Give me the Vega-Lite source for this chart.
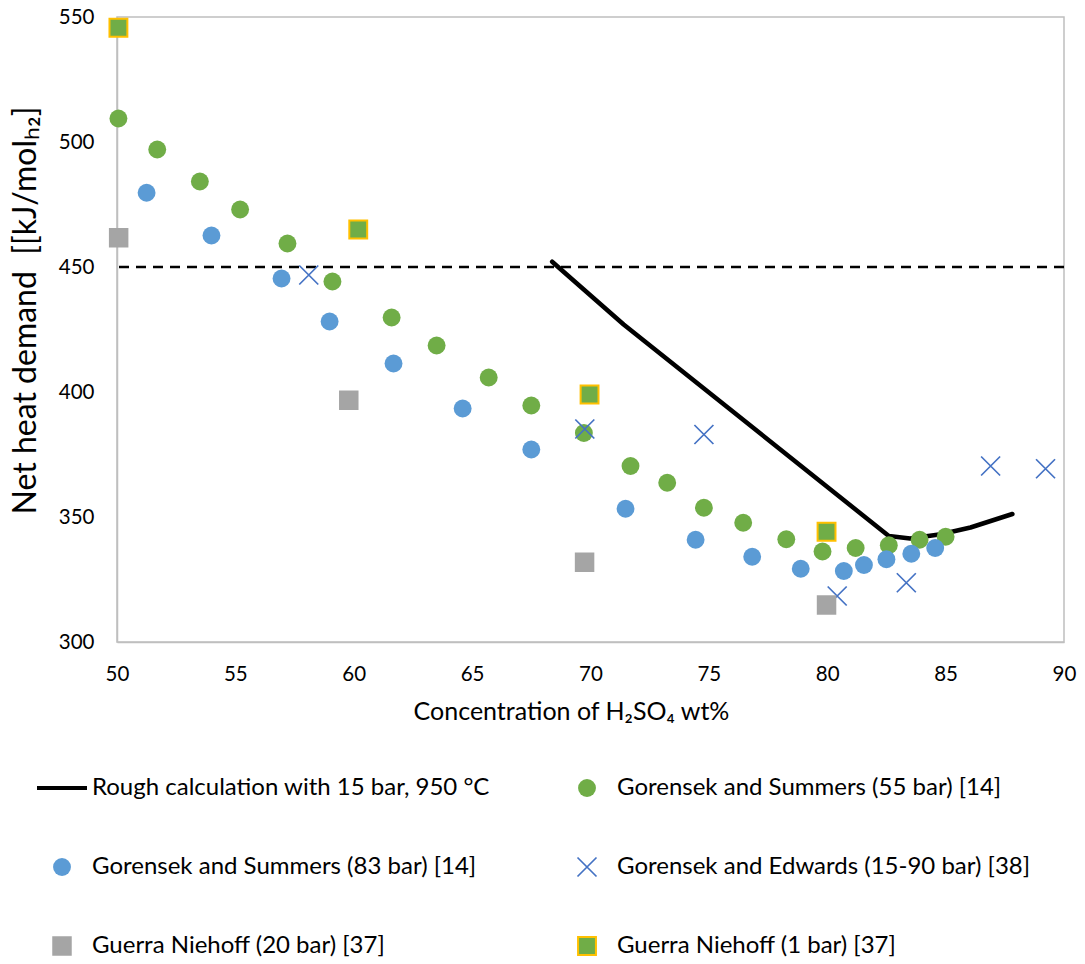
{
  "$schema": "https://vega.github.io/schema/vega-lite/v6.json",
  "width": 947,
  "height": 625,
  "autosize": {"type": "none"},
  "padding": {"left": 117, "top": 17, "right": 21, "bottom": 322},
  "background": "white",
  "config": {
    "font": "Lato",
    "view": {"stroke": "#BFBFBF", "strokeWidth": 1.5},
    "axis": {
      "grid": false,
      "ticks": false,
      "domainColor": "#BFBFBF",
      "domainWidth": 1.5,
      "labelFont": "Lato",
      "labelFontSize": 20.5,
      "labelColor": "#000000",
      "labelFlush": false,
      "labelOverlap": false,
      "titleFont": "Lato",
      "titleColor": "#000000",
      "titleFontWeight": "normal"
    },
    "legend": {
      "labelFont": "Lato",
      "labelFontSize": 24,
      "labelColor": "#000000",
      "labelLimit": 800,
      "labelOffset": 3,
      "padding": 0
    }
  },
  "datasets": {
    "calc": [
      {"conc": 68.38, "demand": 452.1},
      {"conc": 71.4, "demand": 427.0},
      {"conc": 82.6, "demand": 342.4},
      {"conc": 83.5, "demand": 341.4},
      {"conc": 84.8, "demand": 343.1},
      {"conc": 86.05, "demand": 345.8},
      {"conc": 87.82, "demand": 351.2}
    ],
    "threshold": [{"demand": 450}],
    "obs": [
      {"series": "Gorensek and Summers (55 bar) [14]", "conc": 50.06, "demand": 509.4},
      {"series": "Gorensek and Summers (55 bar) [14]", "conc": 51.7, "demand": 497.0},
      {"series": "Gorensek and Summers (55 bar) [14]", "conc": 53.5, "demand": 484.2},
      {"series": "Gorensek and Summers (55 bar) [14]", "conc": 55.2, "demand": 473.0},
      {"series": "Gorensek and Summers (55 bar) [14]", "conc": 57.2, "demand": 459.4},
      {"series": "Gorensek and Summers (55 bar) [14]", "conc": 59.1, "demand": 444.2},
      {"series": "Gorensek and Summers (55 bar) [14]", "conc": 61.6, "demand": 429.8},
      {"series": "Gorensek and Summers (55 bar) [14]", "conc": 63.5, "demand": 418.6},
      {"series": "Gorensek and Summers (55 bar) [14]", "conc": 65.7, "demand": 405.8},
      {"series": "Gorensek and Summers (55 bar) [14]", "conc": 67.5, "demand": 394.6},
      {"series": "Gorensek and Summers (55 bar) [14]", "conc": 69.72, "demand": 383.6},
      {"series": "Gorensek and Summers (55 bar) [14]", "conc": 71.69, "demand": 370.4},
      {"series": "Gorensek and Summers (55 bar) [14]", "conc": 73.24, "demand": 363.7},
      {"series": "Gorensek and Summers (55 bar) [14]", "conc": 74.79, "demand": 353.7},
      {"series": "Gorensek and Summers (55 bar) [14]", "conc": 76.45, "demand": 347.7},
      {"series": "Gorensek and Summers (55 bar) [14]", "conc": 78.27, "demand": 341.1},
      {"series": "Gorensek and Summers (55 bar) [14]", "conc": 79.8, "demand": 336.2},
      {"series": "Gorensek and Summers (55 bar) [14]", "conc": 81.2, "demand": 337.6},
      {"series": "Gorensek and Summers (55 bar) [14]", "conc": 82.6, "demand": 338.7},
      {"series": "Gorensek and Summers (55 bar) [14]", "conc": 83.9, "demand": 340.9},
      {"series": "Gorensek and Summers (55 bar) [14]", "conc": 85.0, "demand": 342.1},
      {"series": "Gorensek and Summers (83 bar) [14]", "conc": 51.25, "demand": 479.7},
      {"series": "Gorensek and Summers (83 bar) [14]", "conc": 53.99, "demand": 462.6},
      {"series": "Gorensek and Summers (83 bar) [14]", "conc": 56.95, "demand": 445.4},
      {"series": "Gorensek and Summers (83 bar) [14]", "conc": 58.98, "demand": 428.2},
      {"series": "Gorensek and Summers (83 bar) [14]", "conc": 61.68, "demand": 411.4},
      {"series": "Gorensek and Summers (83 bar) [14]", "conc": 64.6, "demand": 393.4},
      {"series": "Gorensek and Summers (83 bar) [14]", "conc": 67.5, "demand": 377.0},
      {"series": "Gorensek and Summers (83 bar) [14]", "conc": 71.48, "demand": 353.3},
      {"series": "Gorensek and Summers (83 bar) [14]", "conc": 74.44, "demand": 340.9},
      {"series": "Gorensek and Summers (83 bar) [14]", "conc": 76.83, "demand": 334.1},
      {"series": "Gorensek and Summers (83 bar) [14]", "conc": 78.88, "demand": 329.3},
      {"series": "Gorensek and Summers (83 bar) [14]", "conc": 80.7, "demand": 328.4},
      {"series": "Gorensek and Summers (83 bar) [14]", "conc": 81.55, "demand": 330.8},
      {"series": "Gorensek and Summers (83 bar) [14]", "conc": 82.5, "demand": 333.1},
      {"series": "Gorensek and Summers (83 bar) [14]", "conc": 83.55, "demand": 335.3},
      {"series": "Gorensek and Summers (83 bar) [14]", "conc": 84.56, "demand": 337.6},
      {"series": "Gorensek and Edwards (15-90 bar) [38]", "conc": 58.1, "demand": 446.8},
      {"series": "Gorensek and Edwards (15-90 bar) [38]", "conc": 69.76, "demand": 385.2},
      {"series": "Gorensek and Edwards (15-90 bar) [38]", "conc": 74.79, "demand": 383.0},
      {"series": "Gorensek and Edwards (15-90 bar) [38]", "conc": 80.42, "demand": 318.4},
      {"series": "Gorensek and Edwards (15-90 bar) [38]", "conc": 83.34, "demand": 323.7},
      {"series": "Gorensek and Edwards (15-90 bar) [38]", "conc": 86.9, "demand": 370.4},
      {"series": "Gorensek and Edwards (15-90 bar) [38]", "conc": 89.22, "demand": 369.3},
      {"series": "Guerra Niehoff (20 bar) [37]", "conc": 50.07, "demand": 461.7},
      {"series": "Guerra Niehoff (20 bar) [37]", "conc": 59.79, "demand": 396.7},
      {"series": "Guerra Niehoff (20 bar) [37]", "conc": 69.75, "demand": 331.9},
      {"series": "Guerra Niehoff (20 bar) [37]", "conc": 79.97, "demand": 314.8},
      {"series": "Guerra Niehoff (1 bar) [37]", "conc": 50.06, "demand": 545.7},
      {"series": "Guerra Niehoff (1 bar) [37]", "conc": 60.19, "demand": 465.0},
      {"series": "Guerra Niehoff (1 bar) [37]", "conc": 69.96, "demand": 399.0},
      {"series": "Guerra Niehoff (1 bar) [37]", "conc": 79.97, "demand": 344.1}
    ]
  },
  "encoding": {
    "x": {
      "field": "conc",
      "type": "quantitative",
      "scale": {"domain": [50, 90], "nice": false, "zero": false},
      "axis": {
        "values": [50, 55, 60, 65, 70, 75, 80, 85, 90],
        "labelPadding": 22,
        "title": "Concentration of H₂SO₄ wt%",
        "titleFontSize": 25,
        "titleX": 454,
        "titleY": 77,
        "titleAnchor": null,
        "titleAlign": "center",
        "titleBaseline": "alphabetic"
      }
    },
    "y": {
      "field": "demand",
      "type": "quantitative",
      "scale": {"domain": [300, 550], "nice": false, "zero": false},
      "axis": {
        "values": [300, 350, 400, 450, 500, 550],
        "labelPadding": 23,
        "title": "Net heat demand\u00a0 [[kJ/molₕ₂]",
        "titleFontSize": 32,
        "titleAngle": -90,
        "titleX": -82,
        "titleY": 293,
        "titleAlign": "center",
        "titleBaseline": "alphabetic"
      }
    }
  },
  "layer": [
    {
      "data": {"name": "threshold"},
      "mark": {"type": "rule", "color": "#000000", "strokeWidth": 2.5, "strokeDash": [10, 7]},
      "encoding": {"x": null}
    },
    {
      "data": {"name": "calc"},
      "mark": {"type": "line", "color": "#000000", "strokeWidth": 4.5, "strokeCap": "round", "strokeJoin": "round"}
    },
    {
      "data": {"name": "obs"},
      "mark": {"type": "point", "opacity": 1},
      "encoding": {
        "shape": {
          "field": "series", "type": "nominal", "title": null,
          "scale": {
            "domain": ["Rough calculation with 15 bar, 950 °C", "Gorensek and Summers (55 bar) [14]", "Gorensek and Summers (83 bar) [14]", "Gorensek and Edwards (15-90 bar) [38]", "Guerra Niehoff (20 bar) [37]", "Guerra Niehoff (1 bar) [37]"],
            "range": ["stroke", "circle", "circle", "M-1,-1L1,1M1,-1L-1,1", "square", "square"]
          },
          "legend": {"orient": "none", "direction": "horizontal", "legendX": -82, "legendY": 756, "columns": 2, "columnPadding": 70, "rowPadding": 49, "clipHeight": 30, "title": null}
        },
        "fill": {
          "field": "series", "type": "nominal", "title": null,
          "scale": {
            "domain": ["Rough calculation with 15 bar, 950 °C", "Gorensek and Summers (55 bar) [14]", "Gorensek and Summers (83 bar) [14]", "Gorensek and Edwards (15-90 bar) [38]", "Guerra Niehoff (20 bar) [37]", "Guerra Niehoff (1 bar) [37]"],
            "range": ["transparent", "#70AD47", "#5B9BD5", "transparent", "#A5A5A5", "#70AD47"]
          },
          "legend": {"orient": "none", "direction": "horizontal", "legendX": -82, "legendY": 756, "columns": 2, "columnPadding": 70, "rowPadding": 49, "clipHeight": 30, "title": null}
        },
        "stroke": {
          "field": "series", "type": "nominal", "title": null,
          "scale": {
            "domain": ["Rough calculation with 15 bar, 950 °C", "Gorensek and Summers (55 bar) [14]", "Gorensek and Summers (83 bar) [14]", "Gorensek and Edwards (15-90 bar) [38]", "Guerra Niehoff (20 bar) [37]", "Guerra Niehoff (1 bar) [37]"],
            "range": ["#000000", "#70AD47", "#5B9BD5", "#4472C4", "#A5A5A5", "#FFC000"]
          },
          "legend": {"orient": "none", "direction": "horizontal", "legendX": -82, "legendY": 756, "columns": 2, "columnPadding": 70, "rowPadding": 49, "clipHeight": 30, "title": null}
        },
        "size": {
          "field": "series", "type": "nominal", "title": null,
          "scale": {
            "type": "ordinal",
            "domain": ["Rough calculation with 15 bar, 950 °C", "Gorensek and Summers (55 bar) [14]", "Gorensek and Summers (83 bar) [14]", "Gorensek and Edwards (15-90 bar) [38]", "Guerra Niehoff (20 bar) [37]", "Guerra Niehoff (1 bar) [37]"],
            "range": [2500, 320, 320, 361, 380, 320]
          },
          "legend": {"orient": "none", "direction": "horizontal", "legendX": -82, "legendY": 756, "columns": 2, "columnPadding": 70, "rowPadding": 49, "clipHeight": 30, "title": null}
        },
        "strokeWidth": {
          "field": "series", "type": "nominal", "title": null,
          "scale": {
            "type": "ordinal",
            "domain": ["Rough calculation with 15 bar, 950 °C", "Gorensek and Summers (55 bar) [14]", "Gorensek and Summers (83 bar) [14]", "Gorensek and Edwards (15-90 bar) [38]", "Guerra Niehoff (20 bar) [37]", "Guerra Niehoff (1 bar) [37]"],
            "range": [4, 0, 0, 1.7, 0, 2]
          },
          "legend": {"orient": "none", "direction": "horizontal", "legendX": -82, "legendY": 756, "columns": 2, "columnPadding": 70, "rowPadding": 49, "clipHeight": 30, "title": null}
        }
      }
    }
  ]
}
